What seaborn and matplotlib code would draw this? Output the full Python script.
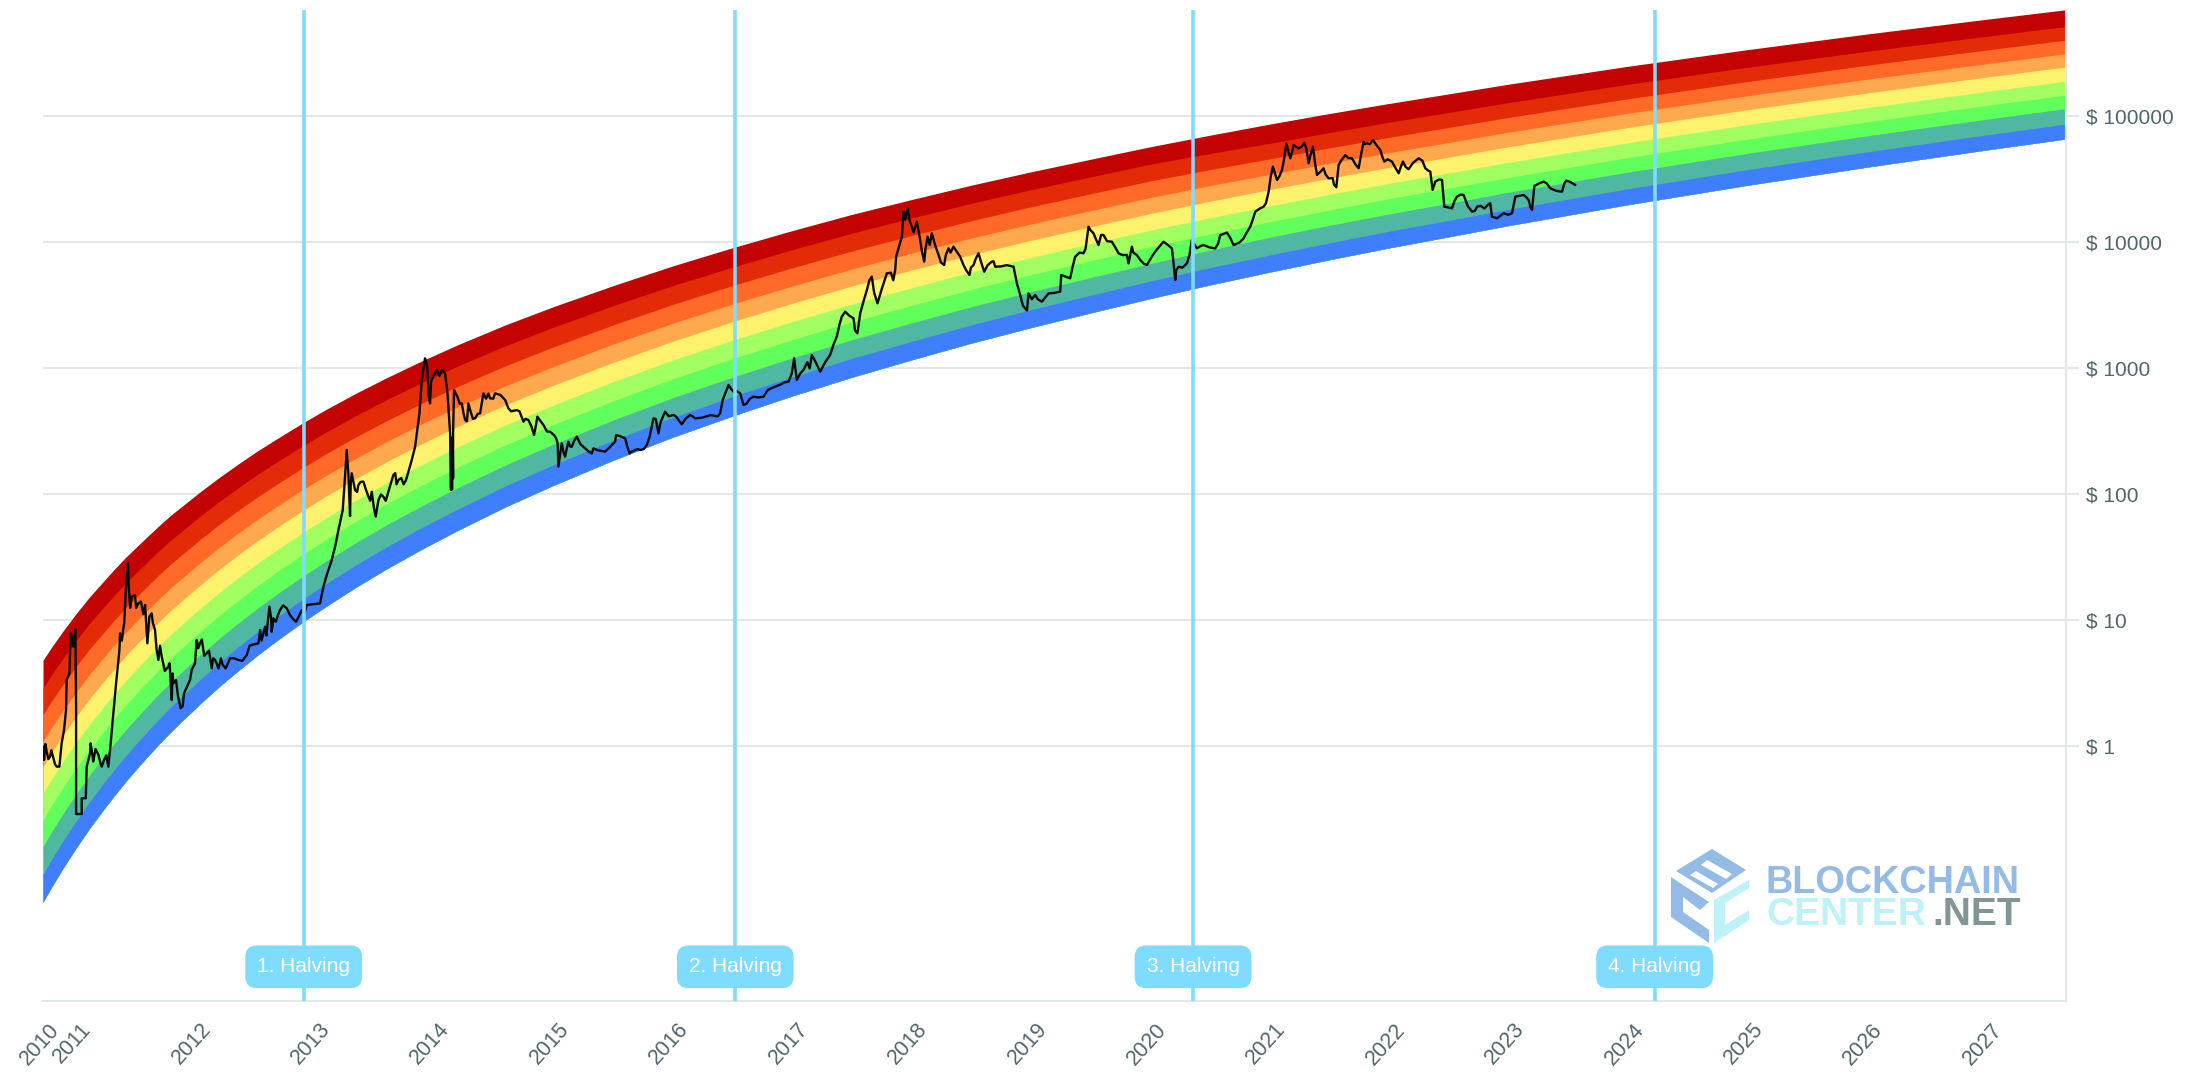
import numpy as np
import seaborn as sns
import matplotlib.pyplot as plt
from matplotlib.patches import Polygon
from matplotlib.transforms import ScaledTranslation

# rainbow boundaries, log10 of the dollar value
band_years = [2010.73, 2010.80, 2010.90, 2011.00, 2011.12, 2011.25, 2011.33, 2011.42, 2011.50, 2011.60, 2011.70, 2011.80,
              2011.92, 2012.05, 2012.20, 2012.35, 2012.52, 2012.70, 2012.90, 2013.10, 2013.35, 2013.60, 2013.90, 2014.20,
              2014.60, 2015.00, 2015.50, 2016.00, 2016.50, 2017.00, 2017.50, 2018.00, 2018.50, 2019.00, 2019.50, 2020.00,
              2020.50, 2021.00, 2021.50, 2022.00, 2022.50, 2023.00, 2024.00, 2025.00, 2026.00, 2027.00, 2027.67]
edge_0 = [.684, .785, .919, 1.045, 1.187, 1.325, 1.409, 1.499, 1.572, 1.662, 1.751, 1.835,
          1.926, 2.024, 2.131, 2.232, 2.342, 2.449, 2.565, 2.675, 2.803, 2.923, 3.059, 3.187,
          3.345, 3.489, 3.656, 3.813, 3.957, 4.093, 4.222, 4.340, 4.454, 4.560, 4.660, 4.759,
          4.851, 4.939, 5.023, 5.103, 5.179, 5.256, 5.398, 5.530, 5.654, 5.771, 5.847]
edge_1 = [.463, .566, .703, .831, .976, 1.117, 1.203, 1.294, 1.369, 1.461, 1.552, 1.637,
          1.730, 1.831, 1.940, 2.043, 2.155, 2.265, 2.383, 2.495, 2.626, 2.749, 2.887, 3.018,
          3.179, 3.326, 3.497, 3.657, 3.803, 3.942, 4.073, 4.194, 4.310, 4.418, 4.520, 4.621,
          4.706, 4.786, 4.872, 4.954, 5.032, 5.110, 5.255, 5.390, 5.517, 5.636, 5.714]
edge_2 = [.252, .357, .496, .626, .774, .918, 1.005, 1.098, 1.175, 1.269, 1.361, 1.448,
          1.543, 1.646, 1.757, 1.863, 1.977, 2.089, 2.209, 2.323, 2.457, 2.582, 2.723, 2.856,
          3.020, 3.170, 3.344, 3.507, 3.657, 3.798, 3.931, 4.054, 4.172, 4.282, 4.386, 4.488,
          4.578, 4.663, 4.750, 4.834, 4.913, 4.992, 5.140, 5.277, 5.406, 5.527, 5.606]
edge_3 = [.041, .147, .289, .422, .572, .719, .808, .903, .981, 1.077, 1.170, 1.259,
          1.356, 1.461, 1.575, 1.682, 1.799, 1.913, 2.035, 2.151, 2.287, 2.415, 2.559, 2.694,
          2.861, 3.014, 3.192, 3.358, 3.510, 3.653, 3.789, 3.914, 4.034, 4.146, 4.252, 4.356,
          4.451, 4.540, 4.629, 4.713, 4.793, 4.875, 5.025, 5.164, 5.295, 5.418, 5.498]
edge_4 = [-.160, -.052, .091, .227, .379, .529, .619, .716, .796, .893, .988, 1.079,
          1.178, 1.284, 1.401, 1.510, 1.628, 1.745, 1.869, 1.987, 2.126, 2.256, 2.402, 2.539,
          2.710, 2.865, 3.046, 3.215, 3.370, 3.516, 3.654, 3.780, 3.903, 4.016, 4.124, 4.229,
          4.327, 4.419, 4.509, 4.595, 4.677, 4.759, 4.912, 5.053, 5.186, 5.312, 5.393]
edge_5 = [-.371, -.262, -.116, .022, .177, .330, .422, .520, .602, .701, .798, .890,
          .991, 1.099, 1.218, 1.329, 1.450, 1.569, 1.695, 1.815, 1.957, 2.089, 2.237, 2.377,
          2.551, 2.709, 2.894, 3.066, 3.223, 3.371, 3.511, 3.640, 3.765, 3.880, 3.990, 4.097,
          4.196, 4.290, 4.382, 4.469, 4.552, 4.636, 4.791, 4.935, 5.070, 5.198, 5.280]
edge_6 = [-.583, -.471, -.322, -.183, -.025, .131, .224, .324, .408, .509, .607, .700,
          .804, .914, 1.035, 1.148, 1.271, 1.393, 1.522, 1.643, 1.787, 1.922, 2.073, 2.215,
          2.392, 2.553, 2.741, 2.916, 3.076, 3.227, 3.369, 3.500, 3.627, 3.744, 3.855, 3.964,
          4.067, 4.164, 4.257, 4.347, 4.431, 4.515, 4.673, 4.820, 4.957, 5.087, 5.170]
edge_7 = [-.794, -.680, -.529, -.387, -.227, -.068, .027, .128, .214, .317, .417, .511,
          .617, .729, .853, .968, 1.093, 1.217, 1.348, 1.471, 1.618, 1.755, 1.909, 2.053,
          2.233, 2.397, 2.589, 2.767, 2.929, 3.083, 3.227, 3.361, 3.489, 3.608, 3.721, 3.832,
          3.939, 4.041, 4.136, 4.226, 4.311, 4.398, 4.558, 4.707, 4.846, 4.978, 5.063]
edge_8 = [-1.014, -.899, -.746, -.601, -.438, -.276, -.180, -.076, .011, .116, .217, .314,
          .421, .535, .662, .779, .907, 1.033, 1.166, 1.292, 1.441, 1.580, 1.737, 1.883,
          2.067, 2.234, 2.429, 2.610, 2.776, 2.932, 3.079, 3.214, 3.345, 3.466, 3.581, 3.693,
          3.800, 3.900, 3.996, 4.089, 4.175, 4.263, 4.426, 4.578, 4.719, 4.853, 4.940]
edge_9 = [-1.235, -1.118, -.962, -.815, -.649, -.484, -.386, -.281, -.192, -.085, .018, .116,
          .226, .342, .471, .590, .720, .849, .984, 1.112, 1.264, 1.406, 1.565, 1.714,
          1.901, 2.071, 2.270, 2.454, 2.622, 2.781, 2.930, 3.068, 3.201, 3.324, 3.441, 3.555,
          3.663, 3.765, 3.863, 3.957, 4.045, 4.134, 4.300, 4.454, 4.598, 4.734, 4.822]
band_colors = ["#c40202", "#e32b08", "#ff6a28", "#ffa94f", "#fdf26b", "#a2ff62", "#60ff5b", "#50b8a2", "#3f7fff"]

# bitcoin price
price_years = [
    2010.733, 2010.739, 2010.761, 2010.789, 2010.817, 2010.845, 2010.867, 2010.886, 2010.906, 2010.923, 2010.928,
    2010.951, 2010.962, 2010.973, 2010.984, 2011.001, 2011.007, 2011.007, 2011.054, 2011.054, 2011.088, 2011.096,
    2011.124, 2011.129, 2011.146, 2011.194, 2011.222, 2011.241, 2011.277, 2011.297, 2011.314, 2011.342, 2011.370,
    2011.375, 2011.403, 2011.425, 2011.442, 2011.448, 2011.473, 2011.529, 2011.585, 2011.604, 2011.621, 2011.640,
    2011.668, 2011.696, 2011.724, 2011.780, 2011.808, 2011.822, 2011.844, 2011.883, 2011.911, 2011.961, 2011.975,
    2012.003, 2012.017, 2012.045, 2012.101, 2012.143, 2012.171, 2012.235, 2012.297, 2012.366, 2012.436, 2012.478,
    2012.534, 2012.548, 2012.590, 2012.626, 2012.645, 2012.659, 2012.715, 2012.771, 2012.827, 2012.897, 2012.939,
    2013.050, 2013.078, 2013.106, 2013.148, 2013.176, 2013.204, 2013.240, 2013.259, 2013.273, 2013.287, 2013.301,
    2013.307, 2013.315, 2013.343, 2013.371, 2013.413, 2013.455, 2013.483, 2013.516, 2013.539, 2013.580, 2013.622,
    2013.664, 2013.706, 2013.770, 2013.818, 2013.846, 2013.882, 2013.902, 2013.929, 2013.949, 2013.971, 2014.013,
    2014.027, 2014.097, 2014.117, 2014.139, 2014.147, 2014.164, 2014.164, 2014.172, 2014.200, 2014.237, 2014.265,
    2014.292, 2014.348, 2014.390, 2014.418, 2014.474, 2014.516, 2014.600, 2014.627, 2014.697, 2014.753, 2014.795,
    2014.842, 2014.870, 2014.921, 2014.976, 2015.027, 2015.046, 2015.074, 2015.102, 2015.130, 2015.158, 2015.200,
    2015.270, 2015.326, 2015.339, 2015.437, 2015.521, 2015.529, 2015.605, 2015.641, 2015.688, 2015.730, 2015.786,
    2015.842, 2015.884, 2015.939, 2016.009, 2016.079, 2016.149, 2016.191, 2016.400, 2016.422, 2016.470, 2016.512,
    2016.568, 2016.596, 2016.679, 2016.763, 2016.847, 2016.972, 2017.020, 2017.042, 2017.098, 2017.168, 2017.238,
    2017.321, 2017.377, 2017.419, 2017.447, 2017.517, 2017.550, 2017.573, 2017.629, 2017.670, 2017.718, 2017.796,
    2017.866, 2017.874, 2017.922, 2017.936, 2017.969, 2018.005, 2018.047, 2018.109, 2018.137, 2018.173, 2018.229,
    2018.276, 2018.313, 2018.354, 2018.410, 2018.438, 2018.488, 2018.522, 2018.564, 2018.611, 2018.675, 2018.703,
    2018.857, 2018.885, 2018.913, 2018.954, 2018.982, 2019.038, 2019.094, 2019.150, 2019.248, 2019.256, 2019.331,
    2019.373, 2019.443, 2019.485, 2019.527, 2019.569, 2019.611, 2019.680, 2019.736, 2019.806, 2019.820, 2019.848,
    2019.918, 2019.974, 2020.043, 2020.113, 2020.183, 2020.211, 2020.239, 2020.309, 2020.350, 2020.392, 2020.448,
    2020.546, 2020.588, 2020.644, 2020.699, 2020.783, 2020.839, 2020.881, 2020.951, 2020.993, 2021.029, 2021.063,
    2021.105, 2021.141, 2021.174, 2021.202, 2021.244, 2021.292, 2021.328, 2021.364, 2021.398, 2021.453, 2021.495,
    2021.560, 2021.579, 2021.635, 2021.691, 2021.747, 2021.788, 2021.816, 2021.867, 2021.928, 2021.962, 2022.026,
    2022.082, 2022.118, 2022.165, 2022.249, 2022.305, 2022.347, 2022.366, 2022.389, 2022.445, 2022.464, 2022.528,
    2022.570, 2022.626, 2022.696, 2022.738, 2022.849, 2022.863, 2022.905, 2022.961, 2023.031, 2023.059, 2023.129,
    2023.171, 2023.199, 2023.218, 2023.296, 2023.352, 2023.450, 2023.486, 2023.561]
price_log10 = [
    -.001, -.107, -.041, -.081, -.094, -.160, -.160, .025, .131, .290, .528,
    .581, .898, .872, .792, .930, .316, -.536, -.536, -.411, -.411, -.160,
    -.054, .025, -.081, -.067, -.160, -.107, -.160, .025, .210, .501, .766,
    .898, .938, 1.269, 1.454, 1.269, 1.189, 1.136, 1.123, .819, 1.031, 1.057,
    .925, .687, .713, .634, .369, .501, .528, .303, .422, .528, .607,
    .660, .845, .819, .740, .620, .687, .647, .700, .687, .726, .806,
    .819, .925, .951, 1.110, .911, 1.017, 1.083, 1.097, 1.009, 1.083, 1.123,
    1.136, 1.268, 1.361, 1.480, 1.586, 1.718, 1.877, 2.141, 2.353, 2.168, 1.829,
    2.088, 2.168, 2.035, 2.075, 2.102, 1.983, 2.022, 1.824, 1.956, 1.983, 2.022,
    2.155, 2.115, 2.115, 2.274, 2.380, 2.644, 2.909, 3.080, 2.988, 2.723, 2.961,
    2.988, 2.961, 2.803, 2.485, 2.035, 2.128, 2.485, 2.829, 2.776, 2.723, 2.591,
    2.723, 2.604, 2.644, 2.803, 2.763, 2.803, 2.750, 2.684, 2.670, 2.578, 2.591,
    2.472, 2.618, 2.551, 2.498, 2.446, 2.221, 2.406, 2.300, 2.419, 2.379, 2.459,
    2.366, 2.326, 2.366, 2.340, 2.419, 2.472, 2.446, 2.326, 2.353, 2.353, 2.393,
    2.604, 2.485, 2.657, 2.631, 2.557, 2.631, 2.604, 2.644, 2.750, 2.869, 2.816,
    2.803, 2.710, 2.776, 2.776, 2.850, 2.895, 3.081, 2.909, 2.988, 3.107, 2.975,
    3.107, 3.253, 3.411, 3.451, 3.398, 3.279, 3.438, 3.623, 3.729, 3.517, 3.755,
    3.782, 3.888, 4.046, 4.245, 4.271, 4.126, 4.165, 3.848, 4.046, 4.073, 3.901,
    3.821, 3.954, 3.967, 3.887, 3.821, 3.742, 3.821, 3.914, 3.768, 3.848, 3.808,
    3.808, 3.676, 3.583, 3.477, 3.596, 3.583, 3.530, 3.596, 3.610, 3.742, 3.715,
    3.887, 3.914, 4.125, 4.072, 3.980, 4.059, 4.006, 3.914, 3.901, 3.834, 3.967,
    3.861, 3.821, 3.927, 4.006, 3.953, 3.702, 3.808, 3.834, 4.020, 3.953, 3.980,
    3.953, 4.059, 4.078, 3.980, 4.033, 4.125, 4.244, 4.284, 4.403, 4.602, 4.496,
    4.575, 4.787, 4.668, 4.774, 4.747, 4.792, 4.628, 4.761, 4.536, 4.589, 4.509,
    4.438, 4.615, 4.694, 4.668, 4.589, 4.800, 4.787, 4.814, 4.734, 4.642, 4.642,
    4.549, 4.642, 4.581, 4.668, 4.589, 4.562, 4.417, 4.483, 4.496, 4.284, 4.271,
    4.364, 4.377, 4.245, 4.284, 4.311, 4.205, 4.192, 4.232, 4.232, 4.364, 4.377,
    4.337, 4.258, 4.448, 4.483, 4.430, 4.403, 4.491, 4.456]

# finer wiggles of the same line, second pass over the picture
detail_years = [
    2010.75, 2010.775, 2010.80, 2010.83, 2011.15, 2011.17, 2011.21, 2011.26, 2011.39, 2011.41, 2011.46, 2011.50,
    2011.51, 2011.55, 2011.57, 2011.65, 2011.68, 2011.71, 2011.75, 2011.79, 2011.81, 2011.815, 2011.86, 2011.90,
    2012.03, 2012.06, 2012.08, 2012.12, 2012.155, 2012.20, 2012.22, 2012.26, 2012.33, 2012.40, 2012.46, 2012.56,
    2012.60, 2012.64, 2012.68, 2012.70, 2012.74, 2012.80, 2012.85, 2012.92, 2013.36, 2013.39, 2013.43, 2013.47,
    2013.50, 2013.56, 2013.60, 2013.64, 2013.68, 2013.69, 2013.73, 2013.75, 2013.94, 2013.96, 2013.98, 2014.05,
    2014.07, 2014.145, 2014.15, 2014.155, 2014.16, 2014.22, 2014.25, 2014.28, 2014.31, 2014.33, 2014.37, 2014.44,
    2014.46, 2014.50, 2014.56, 2014.62, 2014.65, 2014.72, 2014.77, 2014.82, 2014.86, 2014.89, 2014.95, 2015.01,
    2015.04, 2015.09, 2015.115, 2015.145, 2015.18, 2015.23, 2015.30, 2015.38, 2015.47, 2015.50, 2015.57, 2015.62,
    2015.66, 2015.71, 2015.76, 2015.81, 2015.86, 2015.90, 2015.97, 2016.03, 2016.06, 2016.11, 2016.17, 2016.25,
    2016.32, 2016.38, 2016.49, 2016.54, 2016.62, 2016.65, 2016.72, 2016.80, 2016.90, 2016.94, 2017.00, 2017.07,
    2017.13, 2017.15, 2017.20, 2017.28, 2017.35, 2017.40, 2017.48, 2017.53, 2017.60, 2017.65, 2017.69, 2017.75,
    2017.83, 2017.85, 2017.95, 2017.985, 2018.02, 2018.07, 2018.09, 2018.12, 2018.155, 2018.20, 2018.25, 2018.29,
    2018.33, 2018.38, 2018.46, 2018.50, 2018.54, 2018.59, 2018.64, 2018.69, 2018.75, 2018.80, 2018.935, 2018.97,
    2019.01, 2019.06, 2019.12, 2019.20, 2019.29, 2019.35, 2019.41, 2019.46, 2019.50, 2019.55, 2019.59, 2019.64,
    2019.71, 2019.77, 2019.86, 2019.89, 2019.95, 2020.01, 2020.08, 2020.15, 2020.19, 2020.22, 2020.27, 2020.33,
    2020.42, 2020.50, 2020.57, 2020.62, 2020.67, 2020.75, 2020.81, 2020.86, 2020.92, 2020.97, 2021.01, 2021.08,
    2021.12, 2021.16, 2021.19, 2021.22, 2021.27, 2021.31, 2021.345, 2021.38, 2021.425, 2021.47, 2021.53, 2021.54,
    2021.60, 2021.66, 2021.72, 2021.76, 2021.80, 2021.84, 2021.89, 2021.945, 2021.99, 2022.05, 2022.10, 2022.14,
    2022.20, 2022.28, 2022.33, 2022.42, 2022.49, 2022.55, 2022.60, 2022.66, 2022.72, 2022.77, 2022.80, 2022.83,
    2022.88, 2022.93, 2023.00, 2023.09, 2023.15, 2023.185, 2023.26, 2023.32, 2023.40, 2023.47, 2023.52]
detail_log10 = [
    .02, -.10, -.03, -.14, -.12, -.02, -.13, -.07, .84, .98, 1.10, 1.20,
    1.10, 1.15, 1.05, .98, .78, .80, .60, .66, .42, .58, .40, .32,
    .78, .85, .72, .76, .70, .62, .70, .62, .70, .68, .80, .84,
    .88, 1.02, .99, 1.05, 1.12, 1.04, .99, 1.06, 2.02, 2.10, 2.05, 1.95,
    1.90, 2.00, 1.95, 2.08, 2.17, 2.08, 2.13, 2.08, 3.05, 2.78, 2.90, 2.94,
    2.99, 2.05, 2.45, 2.04, 2.45, 2.72, 2.65, 2.58, 2.66, 2.60, 2.64, 2.76,
    2.80, 2.76, 2.79, 2.70, 2.66, 2.66, 2.60, 2.54, 2.56, 2.59, 2.50, 2.47,
    2.40, 2.33, 2.36, 2.38, 2.43, 2.40, 2.34, 2.35, 2.37, 2.40, 2.46, 2.39,
    2.34, 2.36, 2.36, 2.46, 2.60, 2.57, 2.62, 2.62, 2.58, 2.60, 2.62, 2.61,
    2.63, 2.62, 2.84, 2.82, 2.72, 2.76, 2.77, 2.83, 2.87, 2.89, 2.96, 2.96,
    3.05, 3.00, 3.05, 3.05, 3.19, 3.35, 3.42, 3.30, 3.53, 3.70, 3.60, 3.62,
    3.76, 3.70, 4.18, 4.18, 4.08, 4.05, 3.93, 3.95, 3.98, 3.98, 3.84, 3.90,
    3.92, 3.93, 3.78, 3.80, 3.87, 3.83, 3.82, 3.85, 3.81, 3.82, 3.50, 3.46,
    3.55, 3.55, 3.56, 3.60, 3.73, 3.80, 3.92, 3.95, 4.10, 4.02, 4.06, 4.01,
    3.96, 3.90, 3.92, 3.90, 3.83, 3.88, 3.97, 3.98, 3.90, 3.78, 3.80, 3.90,
    3.97, 3.96, 3.99, 4.07, 4.04, 4.00, 4.08, 4.18, 4.27, 4.31, 4.52, 4.52,
    4.65, 4.72, 4.72, 4.76, 4.76, 4.74, 4.70, 4.64, 4.56, 4.54, 4.51, 4.46,
    4.65, 4.67, 4.62, 4.66, 4.78, 4.78, 4.78, 4.68, 4.66, 4.60, 4.60, 4.60,
    4.63, 4.65, 4.57, 4.50, 4.28, 4.33, 4.38, 4.29, 4.25, 4.29, 4.27, 4.30,
    4.20, 4.21, 4.22, 4.37, 4.36, 4.28, 4.47, 4.47, 4.41, 4.47, 4.48]

halving_years = [2012.913, 2016.527, 2020.36, 2024.225]
halving_labels = ["1. Halving", "2. Halving", "3. Halving", "4. Halving"]
tick_years = [2010.73, 2011, 2012, 2013, 2014, 2015, 2016, 2017, 2018, 2019, 2020, 2021, 2022, 2023, 2024, 2025, 2026, 2027]
tick_labels = ["2010", "2011", "2012", "2013", "2014", "2015", "2016", "2017", "2018", "2019", "2020", "2021",
               "2022", "2023", "2024", "2025", "2026", "2027"]
price_ticks = [1, 10, 100, 1000, 10000, 100000]

W, H = 2191, 1089
GRID = "#e1e8e7"
TEXT = "#51666b"
HALVING = "#7fdcff"

sns.set_theme(style="white")
plt.rcParams['font.family'] = ['Liberation Sans', 'DejaVu Sans']

fig = plt.figure(figsize=(W / 100, H / 100), dpi=100)
ax = fig.add_axes([43 / W, 1 - 1001 / H, (2066 - 43) / W, (1001 - 10) / H])
ax.set_yscale("log")

edges = [edge_0, edge_1, edge_2, edge_3, edge_4, edge_5, edge_6, edge_7, edge_8, edge_9]
bottom = 10 ** np.array(edge_9)
for edge, color in zip(edges[:-1], band_colors):
    # fill down to the last edge so no white seams show between bands
    ax.fill_between(band_years, 10 ** np.array(edge), bottom, color=color, lw=0, zorder=2)

line_years = np.array(price_years + detail_years)
line_log10 = np.array(price_log10 + detail_log10)
order = np.argsort(line_years, kind="stable")
sns.lineplot(x=line_years[order], y=10 ** line_log10[order], color="#0b0b0b", lw=1.7, estimator=None, sort=False,
             ax=ax, zorder=3)

for year in halving_years:
    ax.axvline(year, color=HALVING, lw=2.6, zorder=4)
for year, label in zip(halving_years, halving_labels):
    ax.text(year, 0.0345, label, transform=ax.get_xaxis_transform(), ha="center", va="center", color="white",
            fontsize=15, zorder=6,
            bbox=dict(boxstyle="round,pad=0.57,rounding_size=0.55", fc=HALVING, ec="none"))

ax.set_xlim(2010.73, 2027.67)
ax.set_ylim(10 ** -2.02, 10 ** 5.845)

ax.yaxis.tick_right()
ax.set_yticks(price_ticks)
ax.set_yticklabels([f"$ {p}" for p in price_ticks])
ax.minorticks_off()
ax.tick_params(axis="y", length=9.5, width=1.5, color=GRID, labelcolor=TEXT, labelsize=15, pad=5)
ax.grid(axis="y", color=GRID, lw=1.5, zorder=1)
ax.set_axisbelow(True)

ax.set_xticks(tick_years)
ax.set_xticklabels(tick_labels, rotation=48, ha="right", va="top", rotation_mode="anchor")
ax.tick_params(axis="x", length=0, labelcolor=TEXT, labelsize=15.5, pad=13)
shift = ScaledTranslation(5 / 100, 0, fig.dpi_scale_trans)
for lab in ax.get_xticklabels():
    lab.set_transform(lab.get_transform() + shift)

for side in ["top", "left"]:
    ax.spines[side].set_visible(False)
for side in ["bottom", "right"]:
    ax.spines[side].set_color(GRID)
    ax.spines[side].set_linewidth(1.5)


# logo, pixel positions on the image
def logo_poly(points, color):
    pts = [(x / W, 1 - y / H) for x, y in points]
    ax.add_patch(Polygon(pts, closed=True, fc=color, ec="none", transform=fig.transFigure, zorder=5, clip_on=False))


LOGO_DARK = "#94bbe6"
LOGO_LIGHT = "#bdf2f8"
LOGO_GREY = "#7f9695"
logo_poly([(1712, 849), (1746, 870), (1712, 893), (1676, 871)], LOGO_DARK)
logo_poly([(1707, 860), (1732, 874), (1726, 879), (1701, 865)], "white")
logo_poly([(1696, 871), (1718, 884), (1713, 888), (1690, 875)], "white")
logo_poly([(1671, 877), (1709, 902), (1700, 910), (1683, 897), (1683, 912), (1709, 930), (1709, 943), (1671, 917)],
          LOGO_DARK)
logo_poly([(1749, 880), (1714, 900), (1714, 943), (1749, 920), (1749, 910), (1725, 925), (1725, 903), (1749, 888)],
          LOGO_LIGHT)
ax.text(1766 / W, 1 - 883 / H, "BLOCKCHAIN", transform=fig.transFigure, color=LOGO_DARK, fontsize=27.3,
        fontweight="bold", ha="left", va="center", zorder=5)
ax.text(1766 / W, 1 - 915 / H, "CENTER", transform=fig.transFigure, color=LOGO_LIGHT, fontsize=28,
        fontweight="bold", ha="left", va="center", zorder=5)
ax.text(2021 / W, 1 - 915 / H, ".NET", transform=fig.transFigure, color=LOGO_GREY, fontsize=28,
        fontweight="bold", ha="right", va="center", zorder=5)

fig.savefig("out.png", dpi=100, facecolor="white")
